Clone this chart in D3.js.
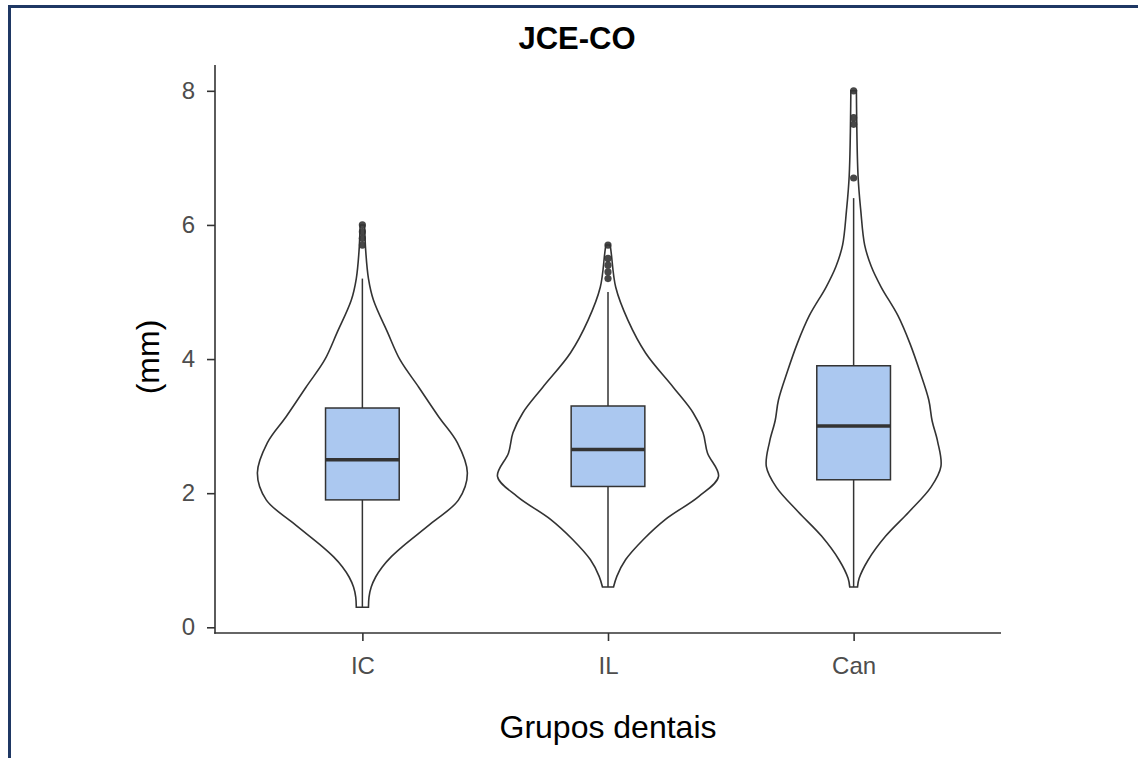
<!DOCTYPE html>
<html>
<head>
<meta charset="utf-8">
<script src="https://cdn.jsdelivr.net/npm/d3@7"></script>
<style>
  html, body { margin: 0; padding: 0; background: #ffffff; }
  svg { display: block; font-family: "Liberation Sans", Arial, Helvetica, sans-serif; }
</style>
</head>
<body>
<svg id="chart" width="1138" height="758"></svg>
<script>
// ---------- DATA ----------
const categories = ["IC", "IL", "Can"];
const yTicks = [0, 2, 4, 6, 8];

// box statistics (mm)
const q1 = [1.9, 2.1, 2.2];
const median = [2.5, 2.65, 3.0];
const q3 = [3.27, 3.3, 3.9];
const whiskerLow = [0.3, 0.6, 0.6];
const whiskerHigh = [5.2, 5.0, 6.4];
const outliersIC = [5.7, 5.8, 5.9, 6.0];
const outliersIL = [5.2, 5.3, 5.4, 5.5, 5.7];
const outliersCan = [6.7, 7.5, 7.6, 8.0];

// violin density profiles (value in mm, relative density)
const violinIC_v = [0.3, 0.45, 0.6, 0.75, 0.9, 1.05, 1.2, 1.56, 1.9, 2.3, 2.75, 3.14, 3.58, 3.99, 4.39, 4.88, 5.2, 5.62, 6.0];
const violinIC_d = [0.055, 0.06, 0.08, 0.12, 0.18, 0.26, 0.36, 0.63, 0.87, 0.95, 0.86, 0.69, 0.51, 0.34, 0.23, 0.10, 0.055, 0.03, 0.02];
const violinIL_v = [0.6, 0.76, 1.01, 1.31, 1.61, 1.95, 2.25, 2.6, 2.9, 3.2, 3.58, 4.09, 4.58, 5.07, 5.57, 5.7];
const violinIL_d = [0.05, 0.08, 0.16, 0.32, 0.52, 0.82, 1.0, 0.90, 0.86, 0.77, 0.59, 0.34, 0.18, 0.07, 0.03, 0.02];
const violinCan_v = [0.6, 0.73, 1.0, 1.36, 1.72, 2.09, 2.4, 2.77, 3.08, 3.39, 3.81, 4.23, 4.65, 5.07, 5.38, 5.7, 6.21, 6.73, 8.0];
const violinCan_d = [0.035, 0.05, 0.13, 0.29, 0.50, 0.70, 0.79, 0.76, 0.71, 0.68, 0.60, 0.51, 0.40, 0.25, 0.16, 0.10, 0.065, 0.04, 0.025];

const violins = [
  { v: violinIC_v, d: violinIC_d, out: outliersIC },
  { v: violinIL_v, d: violinIL_d, out: outliersIL },
  { v: violinCan_v, d: violinCan_d, out: outliersCan }
];

// ---------- LAYOUT ----------
const svg = d3.select("#chart");
const panel = { left: 215, right: 1001, top: 65, bottom: 633 };
const ink = "#333333";

// page border (top and left)
svg.append("line").attr("x1", 8).attr("x2", 1138).attr("y1", 6.5).attr("y2", 6.5)
  .attr("stroke", "#1f3864").attr("stroke-width", 3);
svg.append("line").attr("x1", 9.5).attr("x2", 9.5).attr("y1", 5).attr("y2", 758)
  .attr("stroke", "#1f3864").attr("stroke-width", 3);

// scales
const yScale = d3.scaleLinear().domain([-0.085, 8.385]).range([panel.bottom, panel.top]);
const xPos = d3.scaleLinear().domain([0.4, 3.6]).range([panel.left, panel.right]);
const xOf = i => xPos(i + 1);
const unit = xPos(2) - xPos(1);
const wScale = d3.scaleLinear().domain([0, 1]).range([0, unit * 0.45]);
const boxHalf = unit * 0.3 / 2;

const g = svg.append("g");

// violins
violins.forEach((vi, i) => {
  const cx = xOf(i);
  const pts = vi.v.map((v, k) => ({ v: v, d: vi.d[k] }));
  const area = d3.area()
    .y(p => yScale(p.v))
    .x0(p => cx - wScale(p.d))
    .x1(p => cx + wScale(p.d))
    .curve(d3.curveCatmullRom.alpha(0.5));
  g.append("path").attr("d", area(pts))
    .attr("fill", "#ffffff").attr("stroke", ink).attr("stroke-width", 1.6);
});

// boxplots
categories.forEach((c, i) => {
  const cx = xOf(i);
  g.append("line").attr("x1", cx).attr("x2", cx)
    .attr("y1", yScale(q3[i])).attr("y2", yScale(whiskerHigh[i]))
    .attr("stroke", ink).attr("stroke-width", 1.5);
  g.append("line").attr("x1", cx).attr("x2", cx)
    .attr("y1", yScale(q1[i])).attr("y2", yScale(whiskerLow[i]))
    .attr("stroke", ink).attr("stroke-width", 1.5);
  g.append("rect").attr("x", cx - boxHalf).attr("width", boxHalf * 2)
    .attr("y", yScale(q3[i])).attr("height", yScale(q1[i]) - yScale(q3[i]))
    .attr("fill", "#abc8f0").attr("stroke", ink).attr("stroke-width", 1.5);
  g.append("line").attr("x1", cx - boxHalf).attr("x2", cx + boxHalf)
    .attr("y1", yScale(median[i])).attr("y2", yScale(median[i]))
    .attr("stroke", ink).attr("stroke-width", 3.5);
  violins[i].out.forEach(o => {
    g.append("circle").attr("cx", cx).attr("cy", yScale(o)).attr("r", 3.6)
      .attr("fill", ink).attr("fill-opacity", 0.9);
  });
});

// axes
const yAxis = d3.axisLeft(yScale).tickValues(yTicks).tickSize(8).tickPadding(12).tickFormat(d3.format("d"));
const yg = svg.append("g").attr("transform", `translate(${panel.left},0)`).call(yAxis);
yg.select(".domain").remove();
yg.append("line").attr("x1", 0).attr("x2", 0).attr("y1", panel.top).attr("y2", panel.bottom + 0.8)
  .attr("stroke", ink).attr("stroke-width", 1.6);
yg.selectAll(".tick line").attr("stroke", ink).attr("stroke-width", 1.6);
yg.selectAll(".tick text").attr("fill", "#4d4d4d").attr("font-size", 24);

const xAxis = d3.axisBottom(xPos).tickValues([1, 2, 3]).tickSize(8).tickPadding(16)
  .tickFormat(d => categories[d - 1]);
const xg = svg.append("g").attr("transform", `translate(0,${panel.bottom})`).call(xAxis);
xg.select(".domain").remove();
xg.append("line").attr("x1", panel.left - 0.8).attr("x2", panel.right).attr("y1", 0).attr("y2", 0)
  .attr("stroke", ink).attr("stroke-width", 1.6);
xg.selectAll(".tick line").attr("stroke", ink).attr("stroke-width", 1.6);
xg.selectAll(".tick text").attr("fill", "#4d4d4d").attr("font-size", 24);

// titles
svg.append("text").attr("x", 577).attr("y", 49).attr("text-anchor", "middle")
  .attr("font-size", 31).attr("font-weight", "bold").attr("fill", "#000").text("JCE-CO");
svg.append("text").attr("x", (panel.left + panel.right) / 2).attr("y", 738).attr("text-anchor", "middle")
  .attr("font-size", 32).attr("fill", "#000").text("Grupos dentais");
svg.append("text").attr("transform", `translate(159,357) rotate(-90)`).attr("text-anchor", "middle")
  .attr("font-size", 32).attr("fill", "#000").text("(mm)");
</script>
</body>
</html>
